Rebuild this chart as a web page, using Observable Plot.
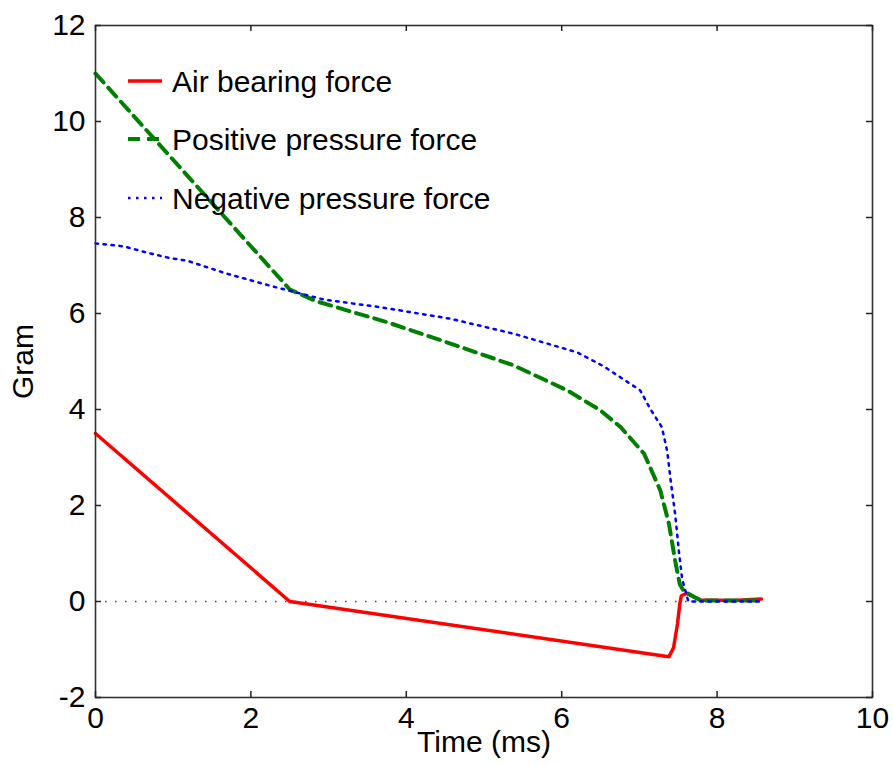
<!DOCTYPE html>
<html><head><meta charset="utf-8">
<script src="https://cdn.jsdelivr.net/npm/d3@7"></script>
<script src="https://cdn.jsdelivr.net/npm/@observablehq/plot@0.6"></script>
<style>body{margin:0;background:#fff;}</style>
</head><body><div id="chart"></div>
<script>
// ---- data ----
const airTime  = [0, 2.5, 7.38, 7.44, 7.49, 7.52, 7.54, 7.61, 7.79, 8.2, 8.57];
const airForce = [3.5, 0, -1.15, -0.96, -0.47, -0.05, 0.12, 0.17, 0.03, 0.02, 0.05];

const posTime  = [0, 2.5, 2.85, 3.75, 4.52, 5.38, 6.07, 6.5, 6.76, 7.06, 7.27, 7.38, 7.46, 7.52, 7.57, 7.7, 7.79, 8.57];
const posForce = [11, 6.5, 6.25, 5.82, 5.40, 4.92, 4.40, 3.98, 3.63, 3.08, 2.31, 1.62, 0.85, 0.36, 0.22, 0.1, 0.02, 0.02];

const negTime  = [0, 0.36, 0.66, 0.97, 1.18, 1.69, 2.29, 2.94, 3.67, 4.57, 5.38, 6.2, 6.54, 7.01, 7.14, 7.29, 7.36, 7.4, 7.46, 7.51, 7.55, 7.63, 8.57];
const negForce = [7.46, 7.40, 7.27, 7.15, 7.1, 6.83, 6.56, 6.29, 6.13, 5.89, 5.58, 5.19, 4.90, 4.40, 4.01, 3.63, 3.11, 2.55, 1.82, 1.02, 0.47, 0.0, 0.0];

const xTicks = [0, 2, 4, 6, 8, 10];
const yTicks = [-2, 0, 2, 4, 6, 8, 10, 12];
const seriesNames  = ["Air bearing force", "Positive pressure force", "Negative pressure force"];
const seriesColors = ["#ff0000", "#008000", "#0000ff"];
const xLabel = "Time (ms)";
const yLabel = "Gram";

// ---- build ----
const rows = (ts, vs) => ts.map((t, i) => ({t, v: vs[i]}));
const airRows = rows(airTime, airForce);
const posRows = rows(posTime, posForce);
const negRows = rows(negTime, negForce);

const W = 893, H = 766, mL = 95, mR = 21, mT = 25, mB = 69;
const innerW = W - mL - mR, innerH = H - mT - mB;
const tk = 6;
const font = "'Liberation Sans', Arial, Helvetica, sans-serif";
const styles = [
  {strokeWidth: 3.5},
  {strokeWidth: 4, strokeDasharray: "12,7"},
  {strokeWidth: 2.5, strokeDasharray: "2.5,5.5"}
];

const chart = Plot.plot({
  width: W, height: H,
  marginLeft: mL, marginRight: mR, marginTop: mT, marginBottom: mB,
  style: {fontFamily: font, background: "#fff", color: "#000"},
  x: {domain: [0, 10]},
  y: {domain: [-2, 12]},
  marks: [
    Plot.ruleY([0], {x1: 0, x2: d3.max(airTime), stroke: "#444", strokeWidth: 1.5, strokeDasharray: "1.5,8.5"}),
    Plot.line(airRows, {x: "t", y: "v", stroke: seriesColors[0], ...styles[0]}),
    Plot.line(posRows, {x: "t", y: "v", stroke: seriesColors[1], ...styles[1]}),
    Plot.line(negRows, {x: "t", y: "v", stroke: seriesColors[2], ...styles[2]}),
    Plot.frame({stroke: "#333", strokeWidth: 1.6}),
    Plot.ruleX(xTicks, {insetTop: innerH - tk, stroke: "#222", strokeWidth: 1.5}),
    Plot.ruleX(xTicks, {insetBottom: innerH - tk, stroke: "#222", strokeWidth: 1.5}),
    Plot.ruleY(yTicks, {insetLeft: innerW - tk, stroke: "#222", strokeWidth: 1.5}),
    Plot.ruleY(yTicks, {insetRight: innerW - tk, stroke: "#222", strokeWidth: 1.5}),
    Plot.axisX(xTicks, {tickSize: 0, tickPadding: 9, fontSize: 30, tickFormat: d => String(d),
      label: xLabel, labelAnchor: "center", labelOffset: 54, labelArrow: "none"}),
    Plot.axisY(yTicks, {tickSize: 0, tickPadding: 10, fontSize: 30, tickFormat: d => String(d),
      label: yLabel, labelAnchor: "center", labelOffset: 84, labelArrow: "none"})
  ]
});

// legend inside the plot area (top-left)
const svg = d3.select(chart);
const lg = svg.append("g").attr("font-family", font).attr("font-size", 30).attr("text-anchor", "start");
const legendY = [81, 139, 198];
seriesNames.forEach((name, i) => {
  const s = styles[i];
  lg.append("line").attr("x1", 128).attr("x2", 162).attr("y1", legendY[i]).attr("y2", legendY[i])
    .attr("stroke", seriesColors[i]).attr("stroke-width", s.strokeWidth)
    .attr("stroke-dasharray", s.strokeDasharray || null);
  lg.append("text").attr("x", 172).attr("y", legendY[i]).attr("dy", "0.35em")
    .attr("text-anchor", "start").attr("fill", "#000").text(name);
});

document.getElementById("chart").appendChild(chart);
</script>
</body></html>
